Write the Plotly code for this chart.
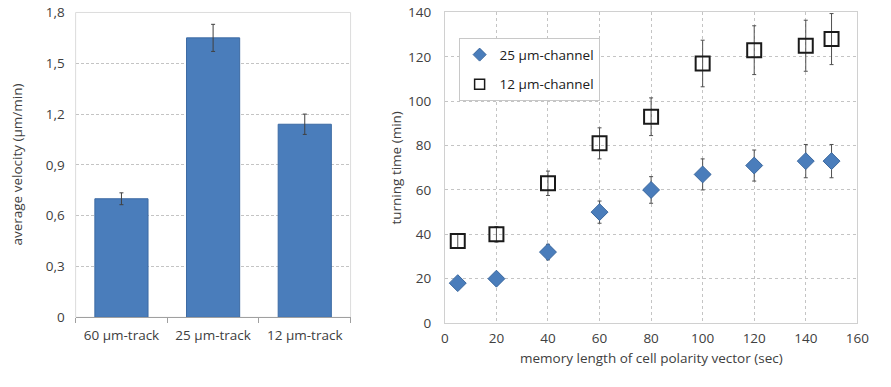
import plotly.graph_objects as go

# Left panel: average velocity per track width
tracks = ["60 µm-track", "25 µm-track", "12 µm-track"]
velocity = [0.70, 1.65, 1.14]
velocity_err = [0.035, 0.08, 0.06]
vel_ticks = [0, 0.3, 0.6, 0.9, 1.2, 1.5, 1.8]
vel_ticktext = ["0", "0,3", "0,6", "0,9", "1,2", "1,5", "1,8"]

# Right panel: turning time vs memory length
memory = [5, 20, 40, 60, 80, 100, 120, 140, 150]
turn_25 = [18, 20, 32, 50, 60, 67, 71, 73, 73]
turn_25_err = [2, 2, 3.5, 5, 6, 7, 7, 7.5, 7.5]
turn_12 = [37, 40, 63, 81, 93, 117, 123, 125, 128]
turn_12_err = [3, 3.5, 5.5, 7, 8.5, 10.5, 11, 11.5, 11.5]

FONT = "Open Sans, Liberation Sans, sans-serif"
TXT = "#404040"
GRID = "#c4c4c4"
FRAME = "#d0d0d0"
BLUE = "#4a7dbb"

# figure canvas; layout positions are given on an 891x387 design grid
W, H = 875, 371
DW, DH = 891, 387


def px(x):
    return x / DW


def py(y):
    return 1 - y / DH


fig = go.Figure()

fig.add_trace(go.Bar(
    x=tracks, y=velocity, width=0.58,
    marker=dict(color=BLUE, line=dict(color="#3c6aa3", width=1)),
    error_y=dict(type="data", array=velocity_err, color="#404040", thickness=1, width=2),
    xaxis="x", yaxis="y", showlegend=False,
))

fig.add_trace(go.Scatter(
    x=memory, y=turn_25, mode="markers", name="25 µm-channel", showlegend=False,
    marker=dict(symbol="diamond", size=13, color=BLUE, line=dict(color="#3a679e", width=1)),
    error_y=dict(type="data", array=turn_25_err, color="#505050", thickness=1, width=2),
    xaxis="x2", yaxis="y2",
))
fig.add_trace(go.Scatter(
    x=memory, y=turn_12, mode="markers", name="12 µm-channel", showlegend=False,
    marker=dict(symbol="square-open", size=14, color="#1a1a1a", line=dict(width=2)),
    error_y=dict(type="data", array=turn_12_err, color="#505050", thickness=1, width=2),
    xaxis="x2", yaxis="y2",
))

# legend entries with smaller symbols
fig.add_trace(go.Scatter(
    x=[None], y=[None], mode="markers", name="25 µm-channel", legendgroup="a",
    marker=dict(symbol="diamond", size=10, color=BLUE, line=dict(color="#3a679e", width=1)),
    xaxis="x2", yaxis="y2",
))
fig.add_trace(go.Scatter(
    x=[None], y=[None], mode="markers", name="12 µm-channel", legendgroup="b",
    marker=dict(symbol="square-open", size=10, color="#1a1a1a", line=dict(width=1.5)),
    xaxis="x2", yaxis="y2",
))

tick_font = dict(family=FONT, size=13.5, color=TXT)
title_font = dict(family=FONT, size=13.5, color=TXT)

fig.update_layout(
    width=W, height=H,
    margin=dict(l=0, r=0, t=0, b=0),
    paper_bgcolor="white", plot_bgcolor="white",
    font=dict(family=FONT, color=TXT),
    xaxis=dict(
        domain=[px(77), px(357)], anchor="y",
        type="category", tickson="boundaries", ticks="outside", ticklen=5,
        tickcolor="#a0a0a0", showgrid=False, tickfont=tick_font,
        showline=True, linecolor="#a0a0a0", mirror=False,
        range=[-0.5, 2.5], ticklabelstandoff=5, automargin=False,
    ),
    yaxis=dict(
        domain=[py(331), py(13)], anchor="x",
        range=[0, 1.8], tickvals=vel_ticks, ticktext=vel_ticktext,
        showgrid=True, gridcolor=GRID, griddash="3px,2px", zeroline=False,
        showline=False, tickfont=tick_font, ticks="", ticklabelstandoff=10,
        automargin=False,
    ),
    xaxis2=dict(
        domain=[px(453), px(873)], anchor="y2",
        range=[0, 160], dtick=20, showgrid=True, gridcolor=GRID, griddash="dot",
        zeroline=False, showline=True, linecolor=FRAME, mirror=True,
        tickfont=tick_font, ticks="", ticklabelstandoff=3, automargin=False,
    ),
    yaxis2=dict(
        domain=[py(337), py(13)], anchor="x2",
        range=[0, 140], dtick=20, showgrid=True, gridcolor=GRID, griddash="dot",
        zeroline=False, showline=True, linecolor=FRAME, mirror=True,
        tickfont=tick_font, ticks="", ticklabelstandoff=10, automargin=False,
    ),
    legend=dict(
        x=px(467), y=py(40), xanchor="left", yanchor="top",
        bgcolor="white", bordercolor="#c8c8c8", borderwidth=1,
        font=dict(family=FONT, size=13.5, color="#202020"),
        tracegroupgap=9, itemwidth=30,
    ),
    annotations=[
        dict(text="average velocity (µm/min)", x=px(17), y=py(172),
             xref="paper", yref="paper", textangle=-90, showarrow=False,
             xanchor="center", yanchor="middle", font=title_font),
        dict(text="turning time (min)", x=px(403), y=py(175),
             xref="paper", yref="paper", textangle=-90, showarrow=False,
             xanchor="center", yanchor="middle", font=title_font),
        dict(text="memory length of cell polarity vector (sec)", x=px(663), y=py(373),
             xref="paper", yref="paper", showarrow=False,
             xanchor="center", yanchor="middle", font=title_font),
    ],
)

# light frame around the bar panel
fig.add_shape(type="rect", xref="paper", yref="paper",
              x0=px(77), x1=px(357), y0=py(331), y1=py(13),
              line=dict(color="#dcdcdc", width=1), layer="below")

fig.write_html("out.html")
